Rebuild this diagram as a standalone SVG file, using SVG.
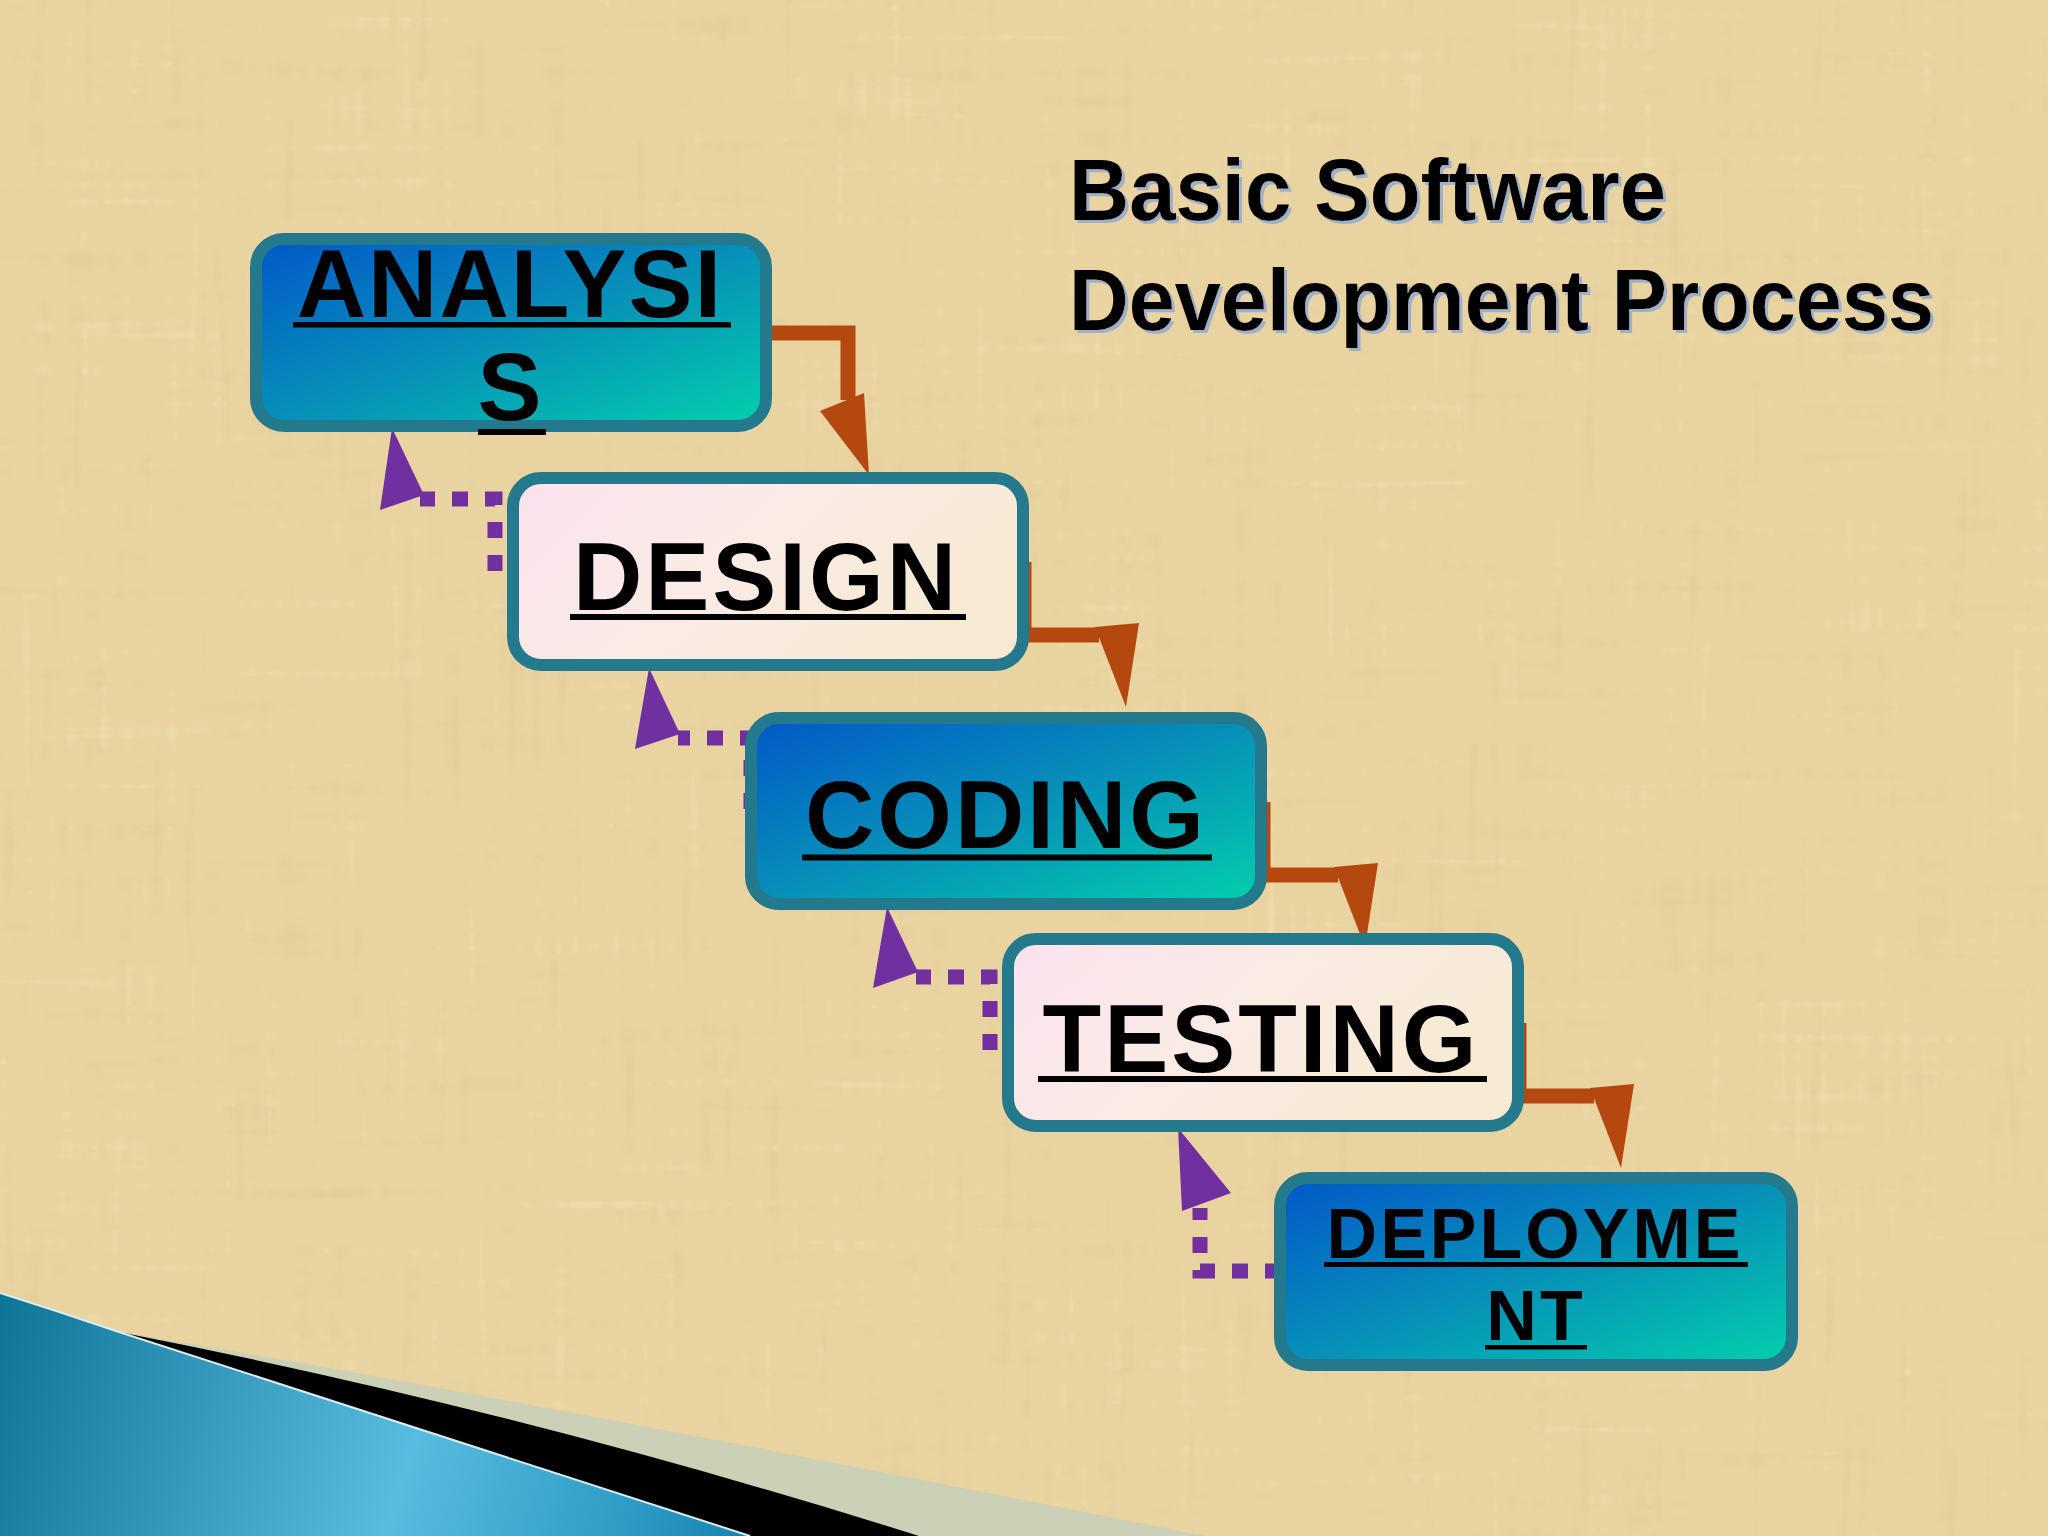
<svg xmlns="http://www.w3.org/2000/svg" width="2048" height="1536" viewBox="0 0 2048 1536">
<defs>
<style>
.box{stroke:#25798c;stroke-width:12}
.blue{fill:url(#gBlue)}
.light{fill:url(#gLight)}
.lbl{font-family:"Liberation Sans",Arial,sans-serif;font-weight:bold;fill:#000;text-anchor:middle;letter-spacing:3px}
.big{font-size:96px}
.small{font-size:70px}
.ul{fill:#000}
.title{font-family:"Liberation Sans",Arial,sans-serif;font-weight:bold;font-size:88px;fill:#000}
.fwd{fill:none;stroke:#b5480f;stroke-width:15}
.fwdh{fill:#b5480f}
.back{fill:none;stroke:#7030a0;stroke-width:15;stroke-dasharray:16 17}
.backh{fill:#7030a0}
</style>
<linearGradient id="gBlue" x1="0" y1="0" x2="1" y2="1">
<stop offset="0" stop-color="#0258c8"/>
<stop offset="0.5" stop-color="#0790b9"/>
<stop offset="1" stop-color="#02d0ac"/>
</linearGradient>
<linearGradient id="gLight" x1="0" y1="0" x2="1" y2="0.4">
<stop offset="0" stop-color="#fbe2ee"/>
<stop offset="0.5" stop-color="#faebe6"/>
<stop offset="1" stop-color="#f7ead3"/>
</linearGradient>
<linearGradient id="gDeco" gradientUnits="userSpaceOnUse" x1="0" y1="1300" x2="760" y2="1536">
<stop offset="0" stop-color="#0f7597"/>
<stop offset="0.55" stop-color="#58bbe0"/>
<stop offset="0.85" stop-color="#2a9ac4"/>
<stop offset="1" stop-color="#1383ad"/>
</linearGradient>
<filter id="paper" filterUnits="userSpaceOnUse" x="0" y="0" width="2048" height="1536">
<feTurbulence type="fractalNoise" baseFrequency="0.06 0.005" numOctaves="2" seed="4" result="v"/>
<feTurbulence type="fractalNoise" baseFrequency="0.005 0.06" numOctaves="2" seed="9" result="h"/>
<feBlend in="v" in2="h" mode="multiply" result="n"/>
<feColorMatrix in="n" type="matrix" values="0 0 0 0 0.62  0 0 0 0 0.48  0 0 0 0 0.25  -2.2 0 0 0 0.75"/>
</filter>
<filter id="paperLight" filterUnits="userSpaceOnUse" x="0" y="0" width="2048" height="1536">
<feTurbulence type="fractalNoise" baseFrequency="0.09 0.004" numOctaves="2" seed="21" result="v"/>
<feTurbulence type="fractalNoise" baseFrequency="0.004 0.09" numOctaves="2" seed="33" result="h"/>
<feBlend in="v" in2="h" mode="screen" result="n"/>
<feColorMatrix in="n" type="matrix" values="0 0 0 0 0.99  0 0 0 0 0.94  0 0 0 0 0.78  3 0 0 0 -2.1"/>
</filter>
<filter id="tshadow" x="-5%" y="-20%" width="110%" height="140%">
<feDropShadow dx="3" dy="3" stdDeviation="0.6" flood-color="#9fb0c8" flood-opacity="1"/>
</filter>
</defs>

<!-- background -->
<rect x="0" y="0" width="2048" height="1536" fill="#e9d3a0"/>
<rect x="0" y="0" width="2048" height="1536" fill="#000" filter="url(#paper)" opacity="0.45"/>
<rect x="0" y="0" width="2048" height="1536" fill="#000" filter="url(#paperLight)" opacity="0.4"/>

<!-- bottom-left decoration -->
<g id="decoration">
<path d="M 120 1332 Q 500 1395 1205 1536 L 919 1536 Q 520 1410 119 1332 Z" fill="#c8cfb9" opacity="0.92"/>
<path d="M 119 1332 Q 520 1410 919 1536 L 750 1536 L 119 1332 Z" fill="#000"/>
<path d="M 0 1293 Q 60 1312 119 1332 L 750 1536 L 0 1536 Z" fill="url(#gDeco)"/>
<path d="M 0 1293 Q 60 1312 119 1332 L 750 1536" fill="none" stroke="#d8eef5" stroke-width="2"/>
</g>

<!-- title -->
<g id="title" filter="url(#tshadow)">
<text class="title" x="1069" y="220" textLength="597" lengthAdjust="spacingAndGlyphs">Basic Software</text>
<text class="title" x="1069" y="330" textLength="865" lengthAdjust="spacingAndGlyphs">Development Process</text>
</g>

<!-- connectors -->
<g id="connectors">
<!-- forward (orange) -->
<path class="fwd" d="M 766 333 H 848 V 400"/>
<polygon class="fwdh" points="820,411 864,393 869,475"/>
<path class="fwd" d="M 1024 562 V 635 H 1099"/>
<polygon class="fwdh" points="1095,627 1139,623 1126,707"/>
<path class="fwd" d="M 1263 802 V 875 H 1338"/>
<polygon class="fwdh" points="1334,867 1378,863 1365,947"/>
<path class="fwd" d="M 1519 1023 V 1096 H 1594"/>
<polygon class="fwdh" points="1590,1088 1634,1084 1621,1168"/>
<!-- feedback (purple dashed) -->
<path class="back" d="M 495 571 V 499 H 420"/>
<polygon class="backh" points="380,510 424,495 392,428"/>
<path class="back" d="M 751 809 V 738 H 678"/>
<polygon class="backh" points="635,749 680,734 649,668"/>
<path class="back" d="M 990 1050 V 977 H 916"/>
<polygon class="backh" points="873,988 918,972 887,907"/>
<path class="back" d="M 1281 1271 H 1200 V 1208"/>
<polygon class="backh" points="1182,1211 1231,1193 1178,1128"/>
</g>

<!-- nodes -->
<g id="node-analysis">
<rect class="box blue" x="256" y="239" width="510" height="187" rx="28"/>
<text class="lbl big" x="510" y="317" style="letter-spacing:2px">ANALYSI</text>
<rect class="ul" x="293" y="322" width="438" height="5.5"/>
<text class="lbl big" x="511" y="420">S</text>
<rect class="ul" x="478" y="429" width="68" height="6"/>
</g>

<g id="node-design">
<rect class="box light" x="513" y="478" width="510" height="187" rx="28"/>
<text class="lbl big" x="766" y="610">DESIGN</text>
<rect class="ul" x="570" y="614" width="396" height="6"/>
</g>

<g id="node-coding">
<rect class="box blue" x="751" y="718" width="510" height="186" rx="28"/>
<text class="lbl big" x="1006" y="848">CODING</text>
<rect class="ul" x="802" y="854.5" width="410" height="6"/>
</g>

<g id="node-testing">
<rect class="box light" x="1008" y="939" width="510" height="187" rx="28"/>
<text class="lbl big" x="1261" y="1072">TESTING</text>
<rect class="ul" x="1038" y="1076" width="449" height="6"/>
</g>

<g id="node-deployment">
<rect class="box blue" x="1280" y="1178" width="512" height="187" rx="28"/>
<text class="lbl small" x="1535" y="1258">DEPLOYME</text>
<rect class="ul" x="1324" y="1262" width="424" height="5"/>
<text class="lbl small" x="1536" y="1340">NT</text>
<rect class="ul" x="1485" y="1345" width="102" height="4.5"/>
</g>
</svg>
